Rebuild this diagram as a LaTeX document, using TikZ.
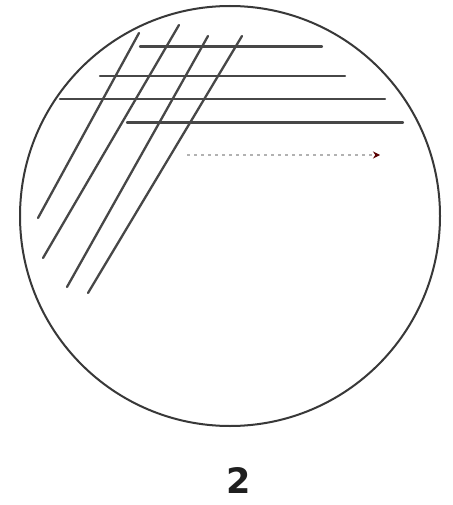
\documentclass[tikz,border=0pt]{standalone}
\usepackage{fontspec}
\newfontfamily\labelfont{DejaVu Sans}
\usetikzlibrary{arrows.meta}
\begin{document}
\begin{tikzpicture}[x=1pt,y=-1pt,
  streak/.style={line width=2.3pt, draw=black!72, line cap=round},
  dish/.style={line width=2pt, draw=black!78},
  trail/.style={line width=2pt, draw=black!30, dash pattern=on 3pt off 4pt, -{Stealth[length=7pt,width=7pt,color=red!35!black]}}]
\useasboundingbox (0,0) rectangle (452,505);
\fill[white] (0,0) rectangle (452,505);
% dish
\draw[dish] (230,216) circle [radius=210];
% horizontal streaks
\draw[streak] (140,46.5) -- (322,46.5);
\draw[streak] (100,76) -- (345,76);
\draw[streak] (60,99) -- (385,99);
\draw[streak] (127,122.5) -- (403,122.5);
% diagonal streaks
\draw[streak] (139,33) -- (38,218);
\draw[streak] (179,25) -- (43,258);
\draw[streak] (208,36) -- (67,287);
\draw[streak] (242,36) -- (88,293);
% dotted trail
\coordinate (t0) at (187,155);
\coordinate (t1) at (380,155);
\draw[trail] (t0) -- (t1);
% label
\node[inner sep=0pt, font=\fontsize{35}{36}\selectfont\labelfont\bfseries, text=black!88] (lbl) at (239,481) {2};
\end{tikzpicture}
\end{document}
